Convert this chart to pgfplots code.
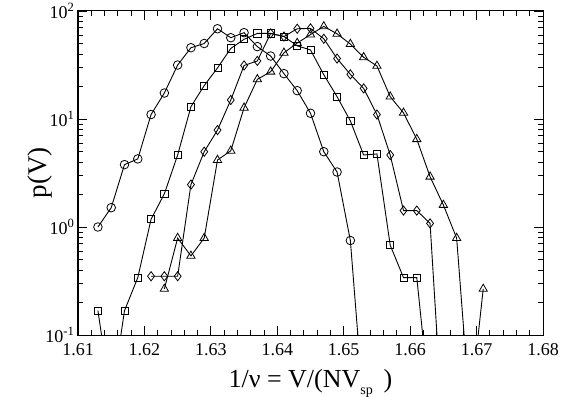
\documentclass[border=0pt]{standalone}
\usepackage{fontspec}
\setmainfont{Liberation Serif}
\usepackage{pgfplots}
\pgfplotsset{compat=1.18}
\pgfplotstableread{
x y
1.613 1.0
1.615 1.51
1.617 3.78
1.619 4.27
1.621 11.0
1.623 17.4
1.625 31.6
1.627 45.7
1.629 50
1.631 68.5
1.633 56.6
1.635 63
1.637 46.8
1.639 38.3
1.641 26.3
1.643 18.3
1.645 11.3
1.647 4.98
1.649 3.23
1.651 0.75
1.653 0.021
}\circdata
\pgfplotstableread{
x y
1.613 0.168
1.615 0.025
1.617 0.168
1.619 0.34
1.621 1.18
1.623 2.03
1.625 4.64
1.627 13.0
1.629 20.4
1.631 29.7
1.633 45
1.635 54.7
1.637 62
1.639 62
1.641 58
1.643 47.6
1.645 43.6
1.647 25.7
1.649 16.1
1.651 9.6
1.653 4.64
1.655 4.75
1.657 0.678
1.659 0.34
1.661 0.34
1.663 0.022
}\sqdata
\pgfplotstableread{
x y
1.621 0.35
1.623 0.35
1.625 0.35
1.627 2.47
1.629 4.98
1.631 7.9
1.633 15.0
1.635 31.3
1.637 34.5
1.639 62
1.641 58
1.643 68.5
1.645 69
1.647 55.3
1.649 36.3
1.651 25.9
1.653 19.2
1.655 11.0
1.657 4.64
1.659 1.42
1.661 1.42
1.663 1.08
1.665 0.011
}\diadata
\pgfplotstableread{
x y
1.623 0.267
1.625 0.79
1.627 0.54
1.629 0.79
1.631 4.17
1.633 5.08
1.635 12.7
1.637 23.3
1.639 27.4
1.641 41
1.643 50.5
1.645 60.5
1.647 72
1.649 61.5
1.651 49.4
1.653 37.3
1.655 31.0
1.657 16.1
1.659 11.4
1.661 6.5
1.663 2.92
1.665 1.6
1.667 0.79
1.669 0.02
1.671 0.267
}\tridata
\begin{document}
\begin{tikzpicture}
\begin{axis}[
  at={(0,0)}, anchor=south west,
  scale only axis, width=465pt, height=324pt,
  xmin=1.61, xmax=1.68, ymin=0.1, ymax=100, ymode=log,
  xtick={1.61,1.62,1.63,1.64,1.65,1.66,1.67,1.68},
  minor x tick num=4,
  ytick={0.1,1,10,100},
  yticklabels={10\textsuperscript{-1},10\textsuperscript{0},10\textsuperscript{1},10\textsuperscript{2}},
  tick align=inside,
  major tick length=9pt, minor tick length=5pt,
  every tick/.style={black, line width=0.8pt},
  axis line style={line width=1pt},
  xticklabel style={font=\fontsize{18}{18}\selectfont, yshift=-5pt, /pgf/number format/.cd, fixed, fixed zerofill, precision=2, assume math mode=true},
  yticklabel style={font=\fontsize{18}{18}\selectfont},
  xlabel={1/ν = V/(NV\raisebox{-7pt}{\fontsize{14}{14}\selectfont sp}\, )},
  ylabel={p(V)},
  every axis x label/.style={at={(axis description cs:0.5,-0.1605)}, anchor=base, font=\fontsize{26}{26}\selectfont},
  every axis y label/.style={at={(axis description cs:-0.0817,0.5)}, rotate=90, anchor=center, font=\fontsize{27}{27}\selectfont},
  clip=true,
]
\addplot[black, line width=0.9pt, mark=o, mark size=4.3pt, mark options={solid, line width=0.8pt}] table {\circdata};
\addplot[black, line width=0.9pt, mark=square, mark size=3.6pt, mark options={solid, line width=0.8pt}] table {\sqdata};
\addplot[black, line width=0.9pt, mark=diamond, mark size=4.6pt, mark options={solid, line width=0.8pt}] table {\diadata};
\addplot[black, line width=0.9pt, mark=triangle, mark size=4.8pt, mark options={solid, line width=0.8pt}] table {\tridata};
\end{axis}
\pgfresetboundingbox
\path[use as bounding box] (-78pt,-61pt) rectangle (499pt,335pt);
\end{tikzpicture}
\end{document}
